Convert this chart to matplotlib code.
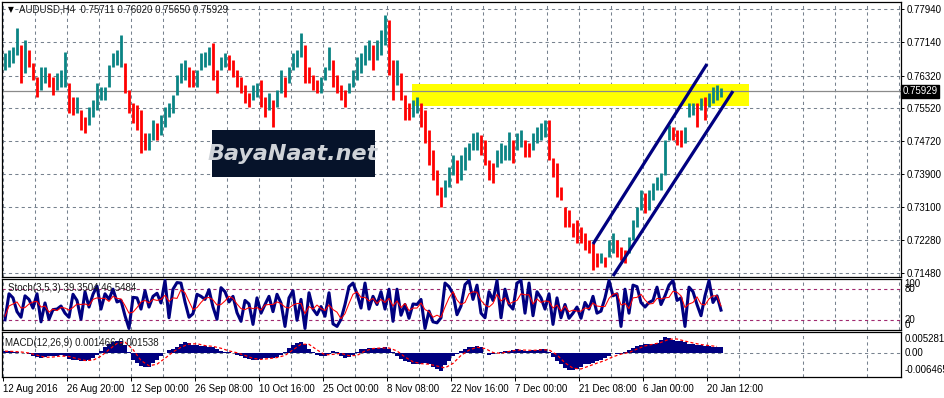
import matplotlib
matplotlib.use("Agg")
import matplotlib.pyplot as plt
from matplotlib.patches import Rectangle
from matplotlib.transforms import blended_transform_factory
import numpy as np

plt.rcParams['font.family'] = ['Liberation Sans', 'DejaVu Sans']
plt.rcParams['lines.scale_dashes'] = False

W, H = 945, 398

# ---------------- data ----------------
highs = [
    .7687, .7695, .7702, .7749, .7707, .7719, .7695, .7663, .7628, .7653,
    .7653, .7638, .7628, .7638, .7646, .7690, .7614, .7579, .7579, .7547,
    .7530, .7555, .7572, .7614, .7604, .7604, .7658, .7687, .7695, .7731,
    .7663, .7596, .7565, .7560, .7547, .7491, .7491, .7523, .7515, .7535,
    .7555, .7565, .7584, .7633, .7663, .7670, .7653, .7646, .7646, .7687,
    .7690, .7702, .7712, .7646, .7677, .7687, .7682, .7670, .7646, .7628,
    .7609, .7589, .7609, .7614, .7621, .7579, .7589, .7572, .7596, .7646,
    .7628, .7653, .7687, .7695, .7736, .7707, .7653, .7633, .7621, .7628,
    .7653, .7702, .7670, .7633, .7609, .7596, .7614, .7646, .7677, .7687,
    .7707, .7719, .7707, .7719, .7744, .7781, .7768, .7670, .7670, .7638,
    .7584, .7565, .7572, .7579, .7565, .7547, .7498, .7449, .7400, .7359,
    .7376, .7408, .7437, .7425, .7437, .7457, .7467, .7491, .7493, .7486,
    .7474, .7425, .7418, .7449, .7467, .7462, .7493, .7474, .7491, .7498,
    .7474, .7467, .7491, .7506, .7515, .7523, .7523, .7430, .7418, .7359,
    .7310, .7302, .7270, .7278, .7261, .7246, .7228, .7221, .7197, .7197,
    .7187, .7228, .7246, .7228, .7211, .7204, .7236, .7278, .7310, .7351,
    .7344, .7351, .7369, .7383, .7393, .7474, .7511, .7506, .7498, .7498,
    .7506, .7565, .7565, .7565, .7577, .7579, .7589, .7604, .7609, .7602,
]
lows = [
    .7646, .7653, .7663, .7682, .7614, .7638, .7653, .7621, .7579, .7596,
    .7614, .7604, .7584, .7596, .7604, .7604, .7540, .7535, .7540, .7498,
    .7491, .7511, .7530, .7547, .7572, .7572, .7604, .7653, .7658, .7653,
    .7589, .7540, .7515, .7498, .7442, .7449, .7449, .7474, .7474, .7486,
    .7506, .7530, .7540, .7584, .7614, .7621, .7604, .7604, .7604, .7646,
    .7653, .7658, .7621, .7589, .7646, .7653, .7646, .7628, .7604, .7589,
    .7565, .7555, .7572, .7579, .7555, .7530, .7547, .7506, .7555, .7589,
    .7579, .7614, .7646, .7653, .7677, .7614, .7614, .7596, .7589, .7589,
    .7621, .7646, .7604, .7589, .7572, .7555, .7589, .7604, .7621, .7638,
    .7658, .7670, .7646, .7670, .7682, .7707, .7633, .7572, .7609, .7572,
    .7523, .7523, .7530, .7540, .7506, .7467, .7413, .7376, .7339, .7310,
    .7334, .7359, .7388, .7369, .7376, .7400, .7425, .7449, .7449, .7437,
    .7413, .7376, .7369, .7408, .7418, .7425, .7425, .7418, .7449, .7457,
    .7432, .7432, .7449, .7467, .7474, .7481, .7425, .7383, .7334, .7327,
    .7261, .7261, .7236, .7221, .7221, .7204, .7197, .7155, .7163, .7173,
    .7163, .7187, .7197, .7187, .7180, .7173, .7197, .7228, .7261, .7302,
    .7295, .7302, .7327, .7351, .7351, .7388, .7474, .7474, .7462, .7457,
    .7467, .7530, .7535, .7506, .7547, .7523, .7555, .7565, .7572, .7579,
]
stoch_k = [
    20, 71, 63, 36, 25, 67, 60, 43, 71, 16, 53, 21, 40, 41, 47, 33, 25, 70, 58, 21,
    75, 45, 70, 86, 41, 71, 60, 80, 55, 58, 28, 3, 64, 63, 41, 77, 45, 66, 72, 53,
    97, 24, 80, 93, 92, 55, 25, 32, 70, 66, 60, 79, 45, 21, 83, 75, 55, 66, 34, 17,
    58, 51, 11, 63, 33, 50, 66, 36, 70, 53, 7, 63, 77, 19, 60, 3, 73, 41, 30, 46,
    27, 73, 12, 7, 21, 50, 85, 92, 71, 43, 92, 41, 66, 50, 75, 41, 80, 17, 80, 29,
    50, 23, 51, 50, 60, 3, 37, 16, 14, 24, 92, 85, 71, 30, 47, 89, 97, 60, 88, 33,
    24, 75, 58, 97, 24, 80, 50, 41, 92, 97, 33, 92, 28, 75, 63, 41, 71, 11, 63, 24,
    50, 23, 33, 45, 23, 54, 41, 66, 33, 37, 63, 97, 67, 71, 7, 80, 33, 88, 85, 54,
    45, 54, 58, 84, 50, 67, 88, 97, 58, 63, 7, 84, 75, 50, 28, 67, 97, 54, 67, 39,
]
stoch_d = [
    27, 47, 51, 55, 43, 44, 51, 55, 56, 45, 47, 35, 41, 38, 44, 43, 39, 44, 51, 50,
    51, 48, 60, 63, 62, 62, 56, 66, 62, 61, 48, 33, 35, 44, 55, 58, 53, 60, 58, 60,
    68, 56, 63, 62, 79, 73, 56, 40, 44, 54, 62, 64, 59, 49, 50, 57, 66, 62, 51, 42,
    40, 44, 42, 44, 39, 49, 50, 50, 55, 52, 45, 43, 49, 52, 52, 32, 46, 41, 49, 42,
    38, 49, 40, 35, 22, 32, 52, 70, 75, 64, 64, 57, 62, 52, 60, 54, 62, 47, 57, 44,
    52, 38, 43, 43, 53, 40, 36, 25, 29, 25, 45, 63, 75, 59, 50, 54, 71, 75, 74, 58,
    49, 45, 52, 70, 57, 63, 51, 55, 58, 71, 69, 69, 51, 61, 54, 57, 56, 43, 49, 37,
    47, 36, 39, 37, 37, 43, 42, 53, 47, 46, 46, 62, 70, 72, 49, 52, 42, 63, 64, 70,
    59, 51, 52, 62, 61, 63, 64, 76, 74, 67, 44, 51, 54, 65, 51, 49, 61, 67, 67, 47,
]
macd_hist = [
    .0008, .0008, .0006, .0004, .0002, .0001, -.0004, -.0010, -.0015, -.0018,
    -.0015, -.0012, -.0010, -.0009, -.0008, -.0012, -.0020, -.0024, -.0025, -.0028,
    -.0030, -.0026, -.0018, -.0008, .0008, .0022, .0034, .0042, .0048, .0046,
    .0030, .0005, -.0025, -.0038, -.0048, -.0052, -.0050, -.0038, -.0025, -.0012,
    .0000, .0012, .0018, .0025, .0035, .0043, .0038, .0032, .0030, .0028,
    .0026, .0025, .0025, .0018, .0008, .0004, .0005, .0002, -.0005, -.0012,
    -.0018, -.0020, -.0024, -.0025, -.0022, -.0018, -.0016, -.0016, -.0014, -.0006,
    .0005, .0020, .0032, .0040, .0044, .0035, .0018, .0005, -.0005, -.0010,
    -.0012, -.0004, .0010, .0005, -.0010, -.0016, -.0014, -.0006, .0006, .0016,
    .0018, .0019, .0020, .0020, .0020, .0022, .0018, .0005, -.0010, -.0022,
    -.0030, -.0034, -.0040, -.0042, -.0040, -.0038, -.0042, -.0050, -.0060, -.0065,
    -.0045, -.0028, -.0012, -.0002, .0010, .0018, .0022, .0025, .0026, .0022,
    .0000, -.0006, -.0004, .0002, .0006, .0010, .0010, .0012, .0015, .0012,
    .0010, .0010, .0012, .0014, .0016, .0015, .0005, -.0015, -.0030, -.0042,
    -.0055, -.0062, -.0064, -.0058, -.0050, -.0042, -.0040, -.0036, -.0030, -.0025,
    -.0018, -.0010, .0003, -.0002, -.0004, .0005, .0012, .0020, .0026, .0030,
    .0035, .0036, .0036, .0040, .0052, .0062, .0058, .0050, .0045, .0045,
    .0042, .0036, .0034, .0032, .0030, .0029, .0026, .0025, .0024, .0023,
]
macd_signal = [
    .0008, .0007, .0005, .0001, -.0007, -.0015, -.0014, -.0010, -.0012, -.0020,
    -.0027, -.0026, -.0011, .0014, .0037, .0042, .0014, -.0027, -.0047, -.0041,
    -.0019, .0005, .0023, .0035, .0036, .0029, .0026, .0019, .0009, .0002,
    -.0008, -.0019, -.0023, -.0020, -.0016, -.0008, .0013, .0034, .0034, .0013,
    -.0006, -.0004, .0000, -.0009, -.0008, .0009, .0018, .0020, .0020, .0009,
    -.0014, -.0032, -.0039, -.0041, -.0048, -.0055, -.0038, -.0008, .0012, .0023,
    .0018, .0003, .0000, .0007, .0012, .0012, .0011, .0013, .0013, -.0006,
    -.0036, -.0056, -.0059, -.0048, -.0037, -.0027, -.0013, -.0003, .0003, .0016,
    .0028, .0034, .0041, .0053, .0054, .0046, .0039, .0033, .0029, .0026,
]
date_labels = ["12 Aug 2016", "26 Aug 20:00", "12 Sep 00:00", "26 Sep 08:00",
               "10 Oct 16:00", "25 Oct 00:00", "8 Nov 08:00", "22 Nov 16:00",
               "7 Dec 00:00", "21 Dec 08:00", "6 Jan 00:00", "20 Jan 12:00"]
price_ticks = [0.7794, 0.7714, 0.7632, 0.7552, 0.7472, 0.7390, 0.7310, 0.7228, 0.7148]
price_tick_labels = ["0.77940", "0.77140", "0.76320", "0.75520", "0.74720",
                     "0.73900", "0.73100", "0.72280", "0.71480"]
last_price = 0.75929
title_main = "AUDUSD,H4  0.75711 0.76020 0.75650 0.75929"
title_stoch = "Stoch(3,5,3) 39.3504 46.5484"
title_macd = "MACD(12,26,9) 0.001466 0.001538"
zone_price = (0.7557, 0.7611)
zone_bars = (102.25, 186.5)
channel_upper = ((147.5, 0.72185), (176.0, 0.76603))
channel_lower = ((152.5, 0.71400), (182.5, 0.75938))

# ---------------- styling ----------------
NAVY = '#000080'
TEAL = '#0a8484'
RED = '#ff0000'
GRID = '#77828f'
LEVEL = '#a0286e'
FS = 7

n = len(highs)
xb = np.arange(n) + 0.5
mids = (np.array(highs) + np.array(lows)) / 2
up = np.r_[True, mids[1:] >= mids[:-1]]
bar_cols = [TEAL if u else RED for u in up]

fig = plt.figure(figsize=(W / 100, H / 100), dpi=100)
fig.patch.set_facecolor('white')

def panel(top, bottom):
    return fig.add_axes([2 / W, 1 - bottom / H, 899 / W, (bottom - top) / H])

XLIM = (-0.25, 224.5)
grid_kw = dict(color=GRID, lw=0.75, dashes=(2.3, 2.3))

def style(ax):
    ax.set_xlim(*XLIM)
    for s in ax.spines.values():
        s.set_color('black')
        s.set_linewidth(0.9)
    ax.set_xticks(np.arange(0, 225, 16))
    ax.set_xticks(np.arange(8, 225, 16), minor=True)
    ax.grid(True, axis='x', which='both', **grid_kw)
    ax.tick_params(axis='x', which='both', length=0, labelbottom=False)
    ax.set_axisbelow(True)

# main panel
ax = panel(2, 277)
style(ax)
ax.set_ylim(0.71376, 0.78124)
ax.yaxis.tick_right()
ax.set_yticks(price_ticks)
ax.set_yticklabels(price_tick_labels, fontsize=FS)
ax.tick_params(axis='y', length=2.5, width=0.7, pad=1.5, colors='black')
ax.grid(True, axis='y', **grid_kw)
ax.add_patch(Rectangle((zone_bars[0], zone_price[0]), zone_bars[1] - zone_bars[0],
                       zone_price[1] - zone_price[0], facecolor='#ffff00',
                       edgecolor='none', zorder=1.5))
ax.axhline(last_price, color='#8a8a8a', lw=0.9, zorder=1.8)
ax.vlines(xb, lows, highs, colors=bar_cols, lw=2.0, zorder=2)
for (x0, y0), (x1, y1) in (channel_upper, channel_lower):
    ax.plot([x0, x1], [y0, y1], color=NAVY, lw=2.3, solid_capstyle='butt', zorder=3)
tr = blended_transform_factory(ax.transAxes, ax.transData)
ax.text(1.0015, last_price, "0.75929", transform=tr, fontsize=FS, color='white',
        va='center', ha='left',
        bbox=dict(boxstyle='square,pad=0.12', facecolor='black', edgecolor='black'),
        zorder=5, clip_on=False)
fig.text(8 / W, 1 - 10 / H, "\u25bc", fontsize=5.5, va='center', ha='left',
         family=['DejaVu Sans'])
fig.text(19 / W, 1 - 10 / H, title_main, fontsize=FS, va='center', ha='left', color='#1a1a1a')

# watermark box
fig.add_artist(Rectangle((212 / W, 1 - 177 / H), 163 / W, 47 / H,
                         transform=fig.transFigure, facecolor='#06132a',
                         edgecolor='none', zorder=10))
fig.text(293 / W, 1 - 154 / H, "BayaNaat.net", fontsize=16, fontweight='bold',
         fontstyle='italic', color='#cfd3d8', ha='center', va='center', zorder=11,
         family=['DejaVu Sans'])

# stochastic panel
ax2 = panel(279, 330)
style(ax2)
ax2.set_ylim(0, 100)
ax2.set_yticks([])
ax2.axhline(80, color=LEVEL, lw=0.8, dashes=(2.3, 2.3))
ax2.axhline(20, color=LEVEL, lw=0.8, dashes=(2.3, 2.3))
ax2.plot(xb, stoch_k, color=NAVY, lw=2.2, zorder=3)
ax2.plot(xb, stoch_d, color=RED, lw=0.75, zorder=4)
tr2 = blended_transform_factory(ax2.transAxes, ax2.transData)
ax2.text(1.004, 100, "100", transform=tr2, fontsize=FS, va='top', ha='left', clip_on=False)
ax2.text(1.004, 80, "80", transform=tr2, fontsize=FS, va='center', ha='left', clip_on=False)
ax2.text(1.004, 20, "20", transform=tr2, fontsize=FS, va='center', ha='left', clip_on=False)
ax2.text(1.004, 0, "0", transform=tr2, fontsize=FS, va='bottom', ha='left', clip_on=False)
fig.text(8 / W, 1 - 288 / H, title_stoch, fontsize=FS, va='center', ha='left', color='#1a1a1a')

# MACD panel
ax3 = panel(332, 377)
style(ax3)
ax3.set_ylim(-0.00893, 0.00803)
ax3.set_yticks([])
ax3.axhline(0, **grid_kw)
ax3.bar(xb, macd_hist, width=1.0, color=NAVY, linewidth=0, zorder=3)
xs = np.arange(len(macd_signal)) * 2 + 0.5
ax3.plot(xs, macd_signal, color=RED, lw=0.9, dashes=(2.2, 1.6), zorder=4)
tr3 = blended_transform_factory(ax3.transAxes, ax3.transData)
for v, s in ((0.005281, "0.005281"), (0.0, "0.00"), (-0.006465, "-0.006465")):
    ax3.text(1.004, v, s, transform=tr3, fontsize=FS, va='center', ha='left', clip_on=False)
fig.text(5 / W, 1 - 343 / H, title_macd, fontsize=FS, va='center', ha='left', color='#1a1a1a')
ax3.set_xticks(np.arange(0, 16 * len(date_labels), 16))
ax3.set_xticklabels(date_labels, fontsize=FS)
ax3.tick_params(axis='x', which='major', length=3, width=0.7, pad=2, labelbottom=True)
for lab in ax3.get_xticklabels():
    lab.set_ha('left')

fig.savefig("out.png", dpi=100, facecolor='white')
